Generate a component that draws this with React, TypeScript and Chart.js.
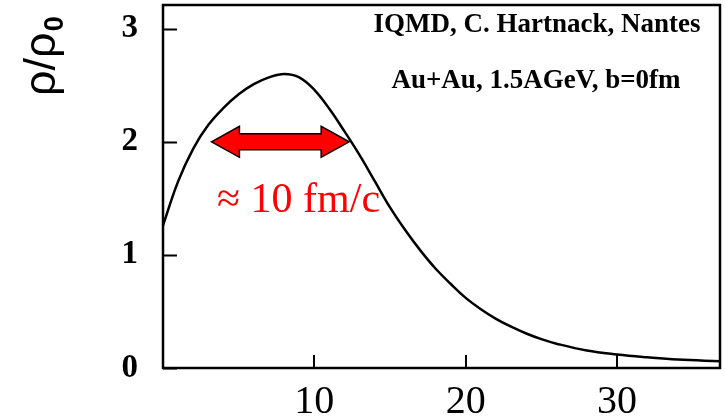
import React, { useEffect, useRef } from "react";
import { Chart, registerables } from "chart.js";

Chart.register(...registerables);

const timeFmc = [0, 1, 2, 3, 4, 5, 6, 7, 8, 9, 10, 11, 12, 13, 14, 15, 16, 17, 18, 19, 20, 21, 22, 23, 24, 25, 26, 28, 30, 32, 34, 36.8];
const density = [1.26, 1.65, 1.94, 2.15, 2.3, 2.42, 2.51, 2.57, 2.6, 2.57, 2.46, 2.29, 2.09, 1.88, 1.65, 1.42, 1.22, 1.04, 0.88, 0.745, 0.62, 0.52, 0.435, 0.365, 0.305, 0.255, 0.215, 0.155, 0.12, 0.095, 0.075, 0.06];
const xTicks = [10, 20, 30];
const yTicks = [0, 1, 2, 3];
const arrowFrom = 3.2;
const arrowTo = 12.3;
const arrowLevel = 2;
const infoLines = ["IQMD, C. Hartnack, Nantes", "Au+Au, 1.5AGeV, b=0fm"];
const widthLabel = "\u2248 10 fm/c";

const decorPlugin = {
  id: "decor",
  afterDraw(chart: any) {
    const { ctx, chartArea, scales } = chart;
    const xs = scales.x;
    const ys = scales.y;
    const { left, right, top, bottom } = chartArea;
    ctx.save();
    ctx.strokeStyle = "#000";
    ctx.lineWidth = 2.5;
    ctx.strokeRect(left, top, right - left, bottom - top);
    ctx.lineWidth = 2;
    ctx.beginPath();
    for (const v of yTicks) {
      const py = Math.round(ys.getPixelForValue(v)) + 0.5;
      ctx.moveTo(left, py);
      ctx.lineTo(left + 14, py);
    }
    for (const v of xTicks) {
      const px = Math.round(xs.getPixelForValue(v));
      ctx.moveTo(px, bottom);
      ctx.lineTo(px, bottom - 13);
    }
    ctx.stroke();

    ctx.save();
    ctx.translate(55, 96);
    ctx.rotate(-Math.PI / 2);
    ctx.fillStyle = "#000";
    ctx.textBaseline = "alphabetic";
    ctx.textAlign = "left";
    ctx.font = "45px 'Liberation Sans', Arial, sans-serif";
    const main = "\u03c1/\u03c1";
    ctx.fillText(main, 0, 0);
    const w = ctx.measureText(main).width;
    ctx.font = "bold 27px 'Liberation Sans', Arial, sans-serif";
    ctx.fillText("0", w + 1, 8);
    ctx.restore();

    ctx.fillStyle = "#000";
    ctx.textAlign = "center";
    ctx.textBaseline = "alphabetic";
    ctx.font = "bold 27px 'Liberation Serif', 'Times New Roman', serif";
    ctx.fillText(infoLines[0], 537, 32);
    ctx.fillText(infoLines[1], 536, 88);

    const x1 = xs.getPixelForValue(arrowFrom);
    const x2 = xs.getPixelForValue(arrowTo);
    const yc = ys.getPixelForValue(arrowLevel);
    const headLen = 28;
    const headHalf = 15.5;
    const shaftHalf = 8;
    ctx.beginPath();
    ctx.moveTo(x1, yc);
    ctx.lineTo(x1 + headLen, yc - headHalf);
    ctx.lineTo(x1 + headLen, yc - shaftHalf);
    ctx.lineTo(x2 - headLen, yc - shaftHalf);
    ctx.lineTo(x2 - headLen, yc - headHalf);
    ctx.lineTo(x2, yc);
    ctx.lineTo(x2 - headLen, yc + headHalf);
    ctx.lineTo(x2 - headLen, yc + shaftHalf);
    ctx.lineTo(x1 + headLen, yc + shaftHalf);
    ctx.lineTo(x1 + headLen, yc + headHalf);
    ctx.closePath();
    ctx.fillStyle = "#ff0000";
    ctx.fill();
    ctx.lineWidth = 1.5;
    ctx.strokeStyle = "#000";
    ctx.lineJoin = "miter";
    ctx.stroke();

    ctx.fillStyle = "#ff0000";
    ctx.textAlign = "left";
    ctx.font = "42px 'Liberation Serif', 'Times New Roman', serif";
    ctx.fillText(widthLabel, 217, 212);
    ctx.restore();
  },
};

export default function App() {
  const ref = useRef<HTMLCanvasElement>(null);
  useEffect(() => {
    document.body.style.margin = "0";
    const chart = new Chart(ref.current!, {
      type: "line",
      data: {
        datasets: [
          {
            data: timeFmc.map((t, i) => ({ x: t, y: density[i] })),
            borderColor: "#000",
            borderWidth: 2.5,
            pointRadius: 0,
            fill: false,
            tension: 0.4,
          },
        ],
      },
      options: {
        responsive: false,
        animation: false,
        events: [],
        layout: { padding: { left: 0, top: 5, right: 5, bottom: 0 } },
        plugins: { legend: { display: false }, tooltip: { enabled: false } },
        scales: {
          x: {
            type: "linear",
            min: 0,
            max: 36.8,
            grid: { display: false, drawTicks: false },
            border: { display: false },
            afterBuildTicks: (s: any) => {
              s.ticks = xTicks.map((v) => ({ value: v }));
            },
            afterFit: (s: any) => {
              s.height = 50;
              s.paddingLeft = 0;
              s.paddingRight = 0;
            },
            ticks: {
              autoSkip: false,
              maxRotation: 0,
              padding: 10,
              color: "#000",
              font: { family: "'Liberation Serif', 'Times New Roman', serif", size: 40 },
              callback: (v: any) => String(v),
            },
          },
          y: {
            type: "linear",
            min: 0,
            max: 3.21,
            grid: { display: false, drawTicks: false },
            border: { display: false },
            afterBuildTicks: (s: any) => {
              s.ticks = yTicks.map((v) => ({ value: v }));
            },
            afterFit: (s: any) => {
              s.width = 163;
              s.paddingTop = 0;
              s.paddingBottom = 0;
            },
            ticks: {
              autoSkip: false,
              padding: 25,
              color: "#000",
              font: { family: "'Liberation Serif', 'Times New Roman', serif", size: 33, weight: "bold" },
              callback: (v: any) => String(v),
            },
          },
        },
      },
      plugins: [decorPlugin],
    });
    return () => chart.destroy();
  }, []);
  return (
    <div style={{ position: "absolute", left: 0, top: 0, width: 725, height: 418, background: "#fff" }}>
      <canvas ref={ref} width={725} height={418} style={{ display: "block" }} />
    </div>
  );
}
